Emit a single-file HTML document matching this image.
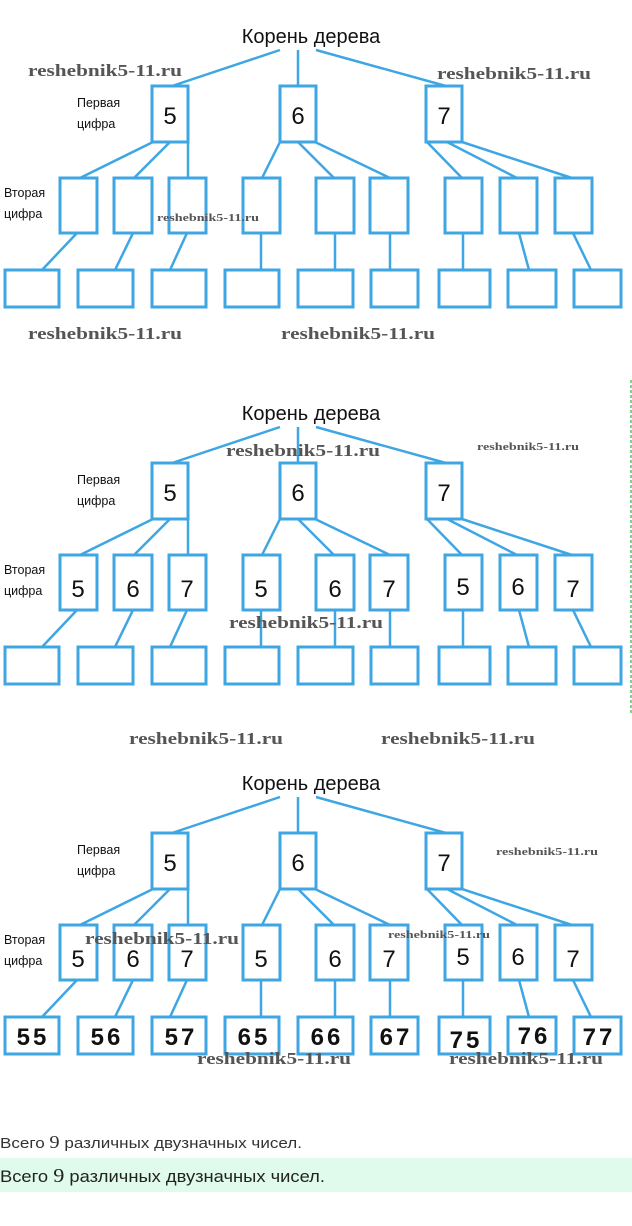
<!DOCTYPE html>
<html><head><meta charset="utf-8"><style>
html,body{margin:0;padding:0;background:#fff;width:632px;height:1226px;overflow:hidden;}
svg{display:block;}
.b{fill:#fff;stroke:#3ea6e2;stroke-width:3;}
.l{stroke:#3ea6e2;stroke-width:2.5;fill:none;}
.t{font-family:"Liberation Sans",sans-serif;fill:#111;}
.w{font-family:"Liberation Serif",serif;font-weight:bold;fill:#555;}
</style></head><body>
<svg width="632" height="1226" viewBox="0 0 632 1226">
<defs>
<g id="tree">
<line class="l" x1="280" y1="50" x2="172" y2="86"/>
<line class="l" x1="298" y1="50" x2="298" y2="86"/>
<line class="l" x1="316" y1="50" x2="446" y2="86"/>
<line class="l" x1="153" y1="142" x2="80" y2="178"/>
<line class="l" x1="170" y1="142" x2="134" y2="178"/>
<line class="l" x1="188" y1="142" x2="188" y2="178"/>
<line class="l" x1="280" y1="142" x2="262" y2="178"/>
<line class="l" x1="298" y1="142" x2="334" y2="178"/>
<line class="l" x1="315" y1="142" x2="390" y2="178"/>
<line class="l" x1="427" y1="142" x2="462" y2="178"/>
<line class="l" x1="447" y1="142" x2="517" y2="178"/>
<line class="l" x1="462" y1="142" x2="572" y2="178"/>
<line class="l" x1="77" y1="233" x2="42" y2="270"/>
<line class="l" x1="133" y1="233" x2="115" y2="270"/>
<line class="l" x1="187" y1="233" x2="170" y2="270"/>
<line class="l" x1="261" y1="233" x2="261" y2="270"/>
<line class="l" x1="335" y1="233" x2="335" y2="270"/>
<line class="l" x1="390" y1="233" x2="390" y2="270"/>
<line class="l" x1="463" y1="233" x2="463" y2="270"/>
<line class="l" x1="519" y1="233" x2="529" y2="270"/>
<line class="l" x1="573" y1="233" x2="591" y2="270"/>
<rect class="b" x="152" y="86" width="36" height="56"/>
<rect class="b" x="280" y="86" width="36" height="56"/>
<rect class="b" x="426" y="86" width="36" height="56"/>
<rect class="b" x="60" y="178" width="37" height="55"/>
<rect class="b" x="114" y="178" width="38" height="55"/>
<rect class="b" x="169" y="178" width="37" height="55"/>
<rect class="b" x="243" y="178" width="37" height="55"/>
<rect class="b" x="316" y="178" width="38" height="55"/>
<rect class="b" x="370" y="178" width="38" height="55"/>
<rect class="b" x="445" y="178" width="37" height="55"/>
<rect class="b" x="500" y="178" width="37" height="55"/>
<rect class="b" x="555" y="178" width="37" height="55"/>
<rect class="b" x="5" y="270" width="54" height="37"/>
<rect class="b" x="78" y="270" width="55" height="37"/>
<rect class="b" x="152" y="270" width="54" height="37"/>
<rect class="b" x="225" y="270" width="54" height="37"/>
<rect class="b" x="298" y="270" width="55" height="37"/>
<rect class="b" x="371" y="270" width="47" height="37"/>
<rect class="b" x="439" y="270" width="51" height="37"/>
<rect class="b" x="508" y="270" width="48" height="37"/>
<rect class="b" x="574" y="270" width="47" height="37"/>
</g>
<g id="labels">
<text class="t" x="311" y="43" font-size="20" text-anchor="middle">Корень дерева</text>
<text class="t" x="77" y="107" font-size="12.5">Первая</text>
<text class="t" x="77" y="128" font-size="12.5">цифра</text>
<text class="t" x="4" y="197" font-size="12.5">Вторая</text>
<text class="t" x="4" y="218" font-size="12.5">цифра</text>
<text class="t" x="170" y="124" font-size="24" text-anchor="middle">5</text>
<text class="t" x="298" y="124" font-size="24" text-anchor="middle">6</text>
<text class="t" x="444" y="124" font-size="24" text-anchor="middle">7</text>
</g>
</defs>

<use href="#tree"/>
<use href="#labels"/>
<g lengthAdjust="spacingAndGlyphs">
<text class="w" x="28" y="76" font-size="17" textLength="154" lengthAdjust="spacingAndGlyphs">reshebnik5-11.ru</text>
<text class="w" x="437" y="79" font-size="17" textLength="154" lengthAdjust="spacingAndGlyphs">reshebnik5-11.ru</text>
<text class="w" x="157" y="221" font-size="11" textLength="102" lengthAdjust="spacingAndGlyphs">reshebnik5-11.ru</text>
<text class="w" x="28" y="339" font-size="17" textLength="154" lengthAdjust="spacingAndGlyphs">reshebnik5-11.ru</text>
<text class="w" x="281" y="339" font-size="17" textLength="154" lengthAdjust="spacingAndGlyphs">reshebnik5-11.ru</text>
</g>

<g transform="translate(0,377)">
<use href="#tree"/>
<use href="#labels"/>
<g class="t" font-size="24" text-anchor="middle">
<text x="78" y="220">5</text><text x="133" y="220">6</text><text x="187" y="220">7</text>
<text x="261" y="220">5</text><text x="335" y="220">6</text><text x="389" y="220">7</text>
<text x="463" y="218">5</text><text x="518" y="218">6</text><text x="573" y="220">7</text>
</g>
</g>
<line x1="631" y1="380" x2="631" y2="715" stroke="#5cbf6e" stroke-width="1.5" stroke-dasharray="3,2"/>
<text class="w" x="226" y="456" font-size="17" textLength="154" lengthAdjust="spacingAndGlyphs">reshebnik5-11.ru</text>
<text class="w" x="477" y="450" font-size="11" textLength="102" lengthAdjust="spacingAndGlyphs">reshebnik5-11.ru</text>
<text class="w" x="229" y="628" font-size="17" textLength="154" lengthAdjust="spacingAndGlyphs">reshebnik5-11.ru</text>
<text class="w" x="129" y="744" font-size="17" textLength="154" lengthAdjust="spacingAndGlyphs">reshebnik5-11.ru</text>
<text class="w" x="381" y="744" font-size="17" textLength="154" lengthAdjust="spacingAndGlyphs">reshebnik5-11.ru</text>

<g transform="translate(0,747)">
<use href="#tree"/>
<use href="#labels"/>
<g class="t" font-size="24" text-anchor="middle">
<text x="78" y="220">5</text><text x="133" y="220">6</text><text x="187" y="220">7</text>
<text x="261" y="220">5</text><text x="335" y="220">6</text><text x="389" y="220">7</text>
<text x="463" y="218">5</text><text x="518" y="218">6</text><text x="573" y="220">7</text>
</g>
<g class="t" font-size="24" text-anchor="middle" letter-spacing="3" font-weight="bold">
<text x="33" y="298">55</text><text x="107" y="298">56</text><text x="181" y="298">57</text>
<text x="254" y="298">65</text><text x="327" y="298">66</text><text x="396" y="298">67</text>
<text x="466" y="301">75</text><text x="534" y="297">76</text><text x="599" y="298">77</text>
</g>
</g>
<text class="w" x="496" y="855" font-size="11" textLength="102" lengthAdjust="spacingAndGlyphs">reshebnik5-11.ru</text>
<text class="w" x="85" y="944" font-size="17" textLength="154" lengthAdjust="spacingAndGlyphs">reshebnik5-11.ru</text>
<text class="w" x="388" y="938" font-size="11" textLength="102" lengthAdjust="spacingAndGlyphs">reshebnik5-11.ru</text>
<text class="w" x="197" y="1064" font-size="17" textLength="154" lengthAdjust="spacingAndGlyphs">reshebnik5-11.ru</text>
<text class="w" x="449" y="1064" font-size="17" textLength="154" lengthAdjust="spacingAndGlyphs">reshebnik5-11.ru</text>

<text x="0" y="1148" font-family="Liberation Sans, sans-serif" font-size="15" fill="#333" textLength="302" lengthAdjust="spacingAndGlyphs">Всего <tspan font-family="Liberation Serif, serif" font-size="18">9</tspan> различных двузначных чисел.</text>
<rect x="0" y="1158" width="632" height="34" fill="#e0fbec"/>
<text x="0" y="1182" font-family="Liberation Sans, sans-serif" font-size="16.5" fill="#222" textLength="325" lengthAdjust="spacingAndGlyphs">Всего <tspan font-family="Liberation Serif, serif" font-size="20">9</tspan> различных двузначных чисел.</text>
</svg>
</body></html>
